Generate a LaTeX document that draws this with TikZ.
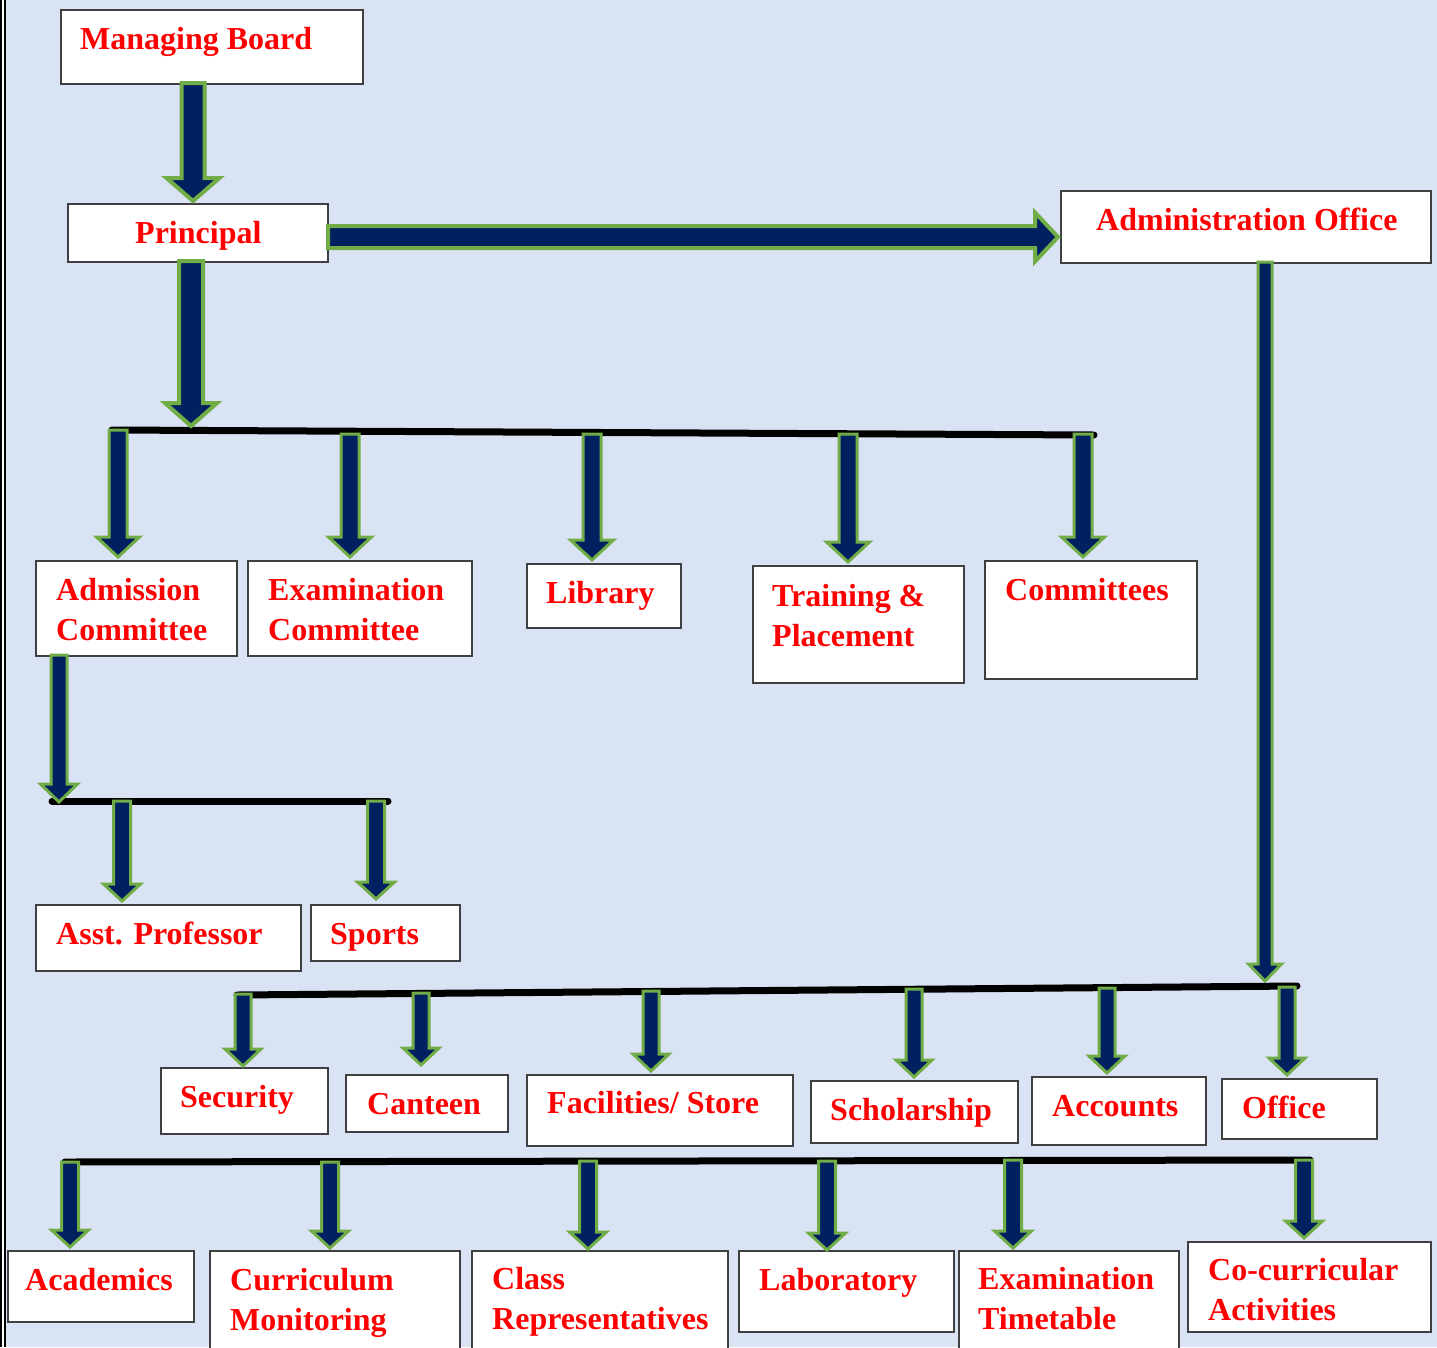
\documentclass[tikz,border=0pt]{standalone}
\usepackage{fontspec}
\setmainfont{Liberation Serif}
\usetikzlibrary{calc}
\definecolor{bgblue}{HTML}{DAE3F3}
\definecolor{navy}{HTML}{002060}
\definecolor{leaf}{HTML}{70AD47}
\definecolor{txtred}{HTML}{FF0000}
\definecolor{edgegray}{HTML}{404040}
\tikzset{
  orgnode/.style={draw=edgegray, line width=1.5pt, fill=white, inner sep=0pt, anchor=north west},
  orgtext/.style={text=txtred, font=\fontsize{32}{39.5}\selectfont\bfseries, inner sep=0pt, anchor=base west, align=left},
  barrow/.style={fill=navy, draw=leaf, line width=3pt, line join=miter},
  bigarrow/.style={line width=4pt},
  busline/.style={draw=black, line width=7pt, line cap=round},
}
% start, end, shaft half width, head half width, head length
\newcommand\blockarrow[6][]{%
  \path (#2) coordinate (baS);
  \path (#3) coordinate (baE);
  \path ($(baE)!#6!(baS)$) coordinate (baH);
  \draw[barrow,#1] ($(baS)!#4!90:(baE)$) -- ($(baH)!#4!90:(baE)$) -- ($(baH)!#5!90:(baE)$) -- (baE)
     -- ($(baH)!#5!-90:(baE)$) -- ($(baH)!#4!-90:(baE)$) -- ($(baS)!#4!-90:(baE)$) -- cycle;
}
% name, left, top, right, bottom, text x, baseline y of the last text line, text
\newcommand\orgbox[8]{%
  \node[orgnode, minimum width={(#4-#2)*1pt}, minimum height={(#5-#3)*1pt}] (#1) at (#2,#3) {};
  \node[orgtext] (#1-t) at (#6,#7) {#8};
}
\begin{document}
\begin{tikzpicture}[x=1pt,y=-1pt]
\useasboundingbox (0,0) rectangle (1437,1347);
\clip (0,0) rectangle (1437,1347);
\fill[white] (0,0) rectangle (1437,1347);
\fill[bgblue] (6,0) rectangle (1437,1347);
\draw[black, line width=2pt] (1,0) -- (1,1347);
\draw[black, line width=2pt] (5,0) -- (5,1347);

% boxes
\orgbox{mb}{60}{9}{362}{83}{80}{49}{Managing Board}
\orgbox{prin}{67}{203}{327}{261}{135}{243}{Principal}
\orgbox{admin}{1060}{190}{1430}{262}{1096}{230}{Administration Office}
\orgbox{adm}{35}{560}{236}{655}{56}{640}{Admission\\Committee}
\orgbox{exc}{247}{560}{471}{655}{268}{640}{Examination\\Committee}
\orgbox{lib}{526}{563}{680}{627}{546}{603}{Library}
\orgbox{tp}{752}{565}{963}{682}{772}{646}{Training \&\\Placement}
\orgbox{com}{984}{560}{1196}{678}{1005}{600}{Committees}
\orgbox{asst}{35}{904}{300}{970}{56}{944}{Asst. Professor}
\orgbox{spo}{310}{904}{459}{960}{330}{944}{Sports}
\orgbox{sec}{160}{1067}{327}{1133}{180}{1107}{Security}
\orgbox{can}{345}{1074}{507}{1131}{367}{1114}{Canteen}
\orgbox{fac}{526}{1074}{792}{1145}{547}{1113}{Facilities/ Store}
\orgbox{sch}{810}{1080}{1017}{1142}{830}{1120}{Scholarship}
\orgbox{acc}{1031}{1076}{1205}{1144}{1052}{1116}{Accounts}
\orgbox{off}{1221}{1078}{1376}{1138}{1242}{1118}{Office}
\orgbox{aca}{7}{1250}{193}{1321}{25}{1290}{Academics}
\orgbox{cur}{209}{1250}{459}{1370}{230}{1330}{Curriculum\\Monitoring}
\orgbox{cls}{471}{1250}{727}{1370}{492}{1329}{Class\\Representatives}
\orgbox{lab}{738}{1250}{953}{1331}{759}{1290}{Laboratory}
\orgbox{ett}{958}{1250}{1178}{1370}{978}{1329}{Examination\\Timetable}
\orgbox{ccu}{1187}{1241}{1430}{1331}{1208}{1320}{Co-curricular\\Activities}

% bus lines
\coordinate (b1L) at (112,430); \coordinate (b1R) at (1094,435);
\coordinate (b2L) at (52,801);  \coordinate (b2R) at (388,801);
\coordinate (b3L) at (237,995); \coordinate (b3R) at (1297,986);
\coordinate (b4L) at (65,1162); \coordinate (b4R) at (1310,1160);
\draw[busline] (b1L) -- (b1R);
\draw[busline] (b2L) -- (b2R);
\draw[busline] (b3L) -- (b3R);
\draw[busline] (b4L) -- (b4R);

% main arrows
\coordinate (s1) at (193,83);
\blockarrow[bigarrow]{s1}{$(s1 |- prin.north)+(0,-2)$}{11.5pt}{26.5pt}{23pt}
\coordinate (s2) at (328,237);
\blockarrow[bigarrow]{s2}{$(s2 -| admin.west)+(-2,0)$}{11pt}{24.5pt}{23pt}
\coordinate (s3) at (191,261); \coordinate (e3) at (191,426);
\blockarrow[bigarrow]{s3}{e3}{12pt}{26pt}{23pt}
\coordinate (s4) at (59,655); \coordinate (e4) at (59,802);
\blockarrow{s4}{e4}{8pt}{18.5pt}{18pt}
\coordinate (s5) at (1265,262); \coordinate (e5) at (1265,981);
\blockarrow{s5}{e5}{7pt}{16.5pt}{17pt}

% bus 1 children
\coordinate (c11) at (118,430); \blockarrow{c11}{$(c11 |- adm.north)+(0,-3)$}{9pt}{21.5pt}{20pt}
\coordinate (c12) at (350,434); \blockarrow{c12}{$(c12 |- exc.north)+(0,-3)$}{9pt}{21.5pt}{20pt}
\coordinate (c13) at (592,434); \blockarrow{c13}{$(c13 |- lib.north)+(0,-3)$}{9pt}{21.5pt}{20pt}
\coordinate (c14) at (848,434); \blockarrow{c14}{$(c14 |- tp.north)+(0,-3)$}{9pt}{21.5pt}{20pt}
\coordinate (c15) at (1083,434); \blockarrow{c15}{$(c15 |- com.north)+(0,-3)$}{9pt}{21.5pt}{20pt}

% bus 2 children
\coordinate (c21) at (122,801); \blockarrow{c21}{$(c21 |- asst.north)+(0,-3)$}{8.5pt}{18.5pt}{17pt}
\coordinate (c22) at (376,801); \blockarrow{c22}{$(c22 |- spo.north)+(0,-5)$}{8.5pt}{18.5pt}{17pt}

% bus 3 children
\coordinate (c31) at (243,994); \blockarrow{c31}{$(c31 |- sec.north)+(0,-1)$}{8pt}{18pt}{17pt}
\coordinate (c32) at (421,993); \blockarrow{c32}{$(c32 |- can.north)+(0,-9)$}{8pt}{18pt}{17pt}
\coordinate (c33) at (651,991); \blockarrow{c33}{$(c33 |- fac.north)+(0,-3)$}{8pt}{18pt}{17pt}
\coordinate (c34) at (914,989); \blockarrow{c34}{$(c34 |- sch.north)+(0,-3)$}{8pt}{18pt}{17pt}
\coordinate (c35) at (1107,988); \blockarrow{c35}{$(c35 |- acc.north)+(0,-3)$}{8pt}{18pt}{17pt}
\coordinate (c36) at (1287,987); \blockarrow{c36}{$(c36 |- off.north)+(0,-3)$}{8pt}{18pt}{17pt}

% bus 4 children
\coordinate (c41) at (70,1162); \blockarrow{c41}{$(c41 |- aca.north)+(0,-3)$}{8.5pt}{18.5pt}{17pt}
\coordinate (c42) at (330,1162); \blockarrow{c42}{$(c42 |- cur.north)+(0,-2)$}{8.5pt}{18.5pt}{17pt}
\coordinate (c43) at (588,1161); \blockarrow{c43}{$(c43 |- cls.north)+(0,-1)$}{8.5pt}{18.5pt}{17pt}
\coordinate (c44) at (827,1161); \blockarrow{c44}{$(c44 |- lab.north)+(0,0)$}{8.5pt}{18.5pt}{17pt}
\coordinate (c45) at (1013,1160); \blockarrow{c45}{$(c45 |- ett.north)+(0,-2)$}{8.5pt}{18.5pt}{17pt}
\coordinate (c46) at (1304,1160); \blockarrow{c46}{$(c46 |- ccu.north)+(0,-3)$}{8.5pt}{18.5pt}{17pt}
\end{tikzpicture}
\end{document}
